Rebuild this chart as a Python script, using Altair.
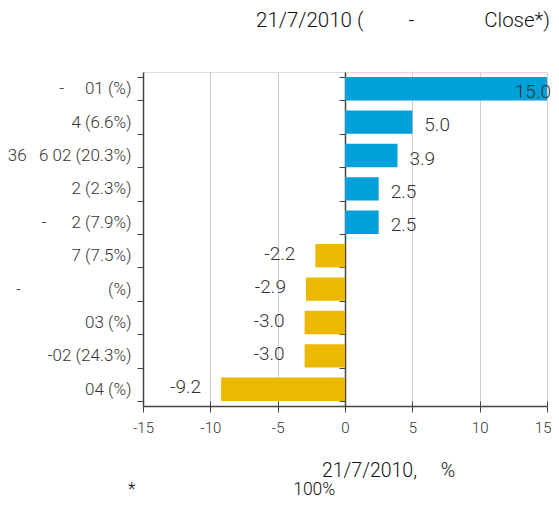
import altair as alt
import pandas as pd

NB = "\u00a0"

categories = [
    "-" + NB * 5 + "01 (%)",
    "4 (6.6%)",
    "36" + NB * 3 + "6 02 (20.3%)",
    "2 (2.3%)",
    "-" + NB * 6 + "2 (7.9%)",
    "7 (7.5%)",
    "-" + NB * 21 + "(%)",
    "03 (%)",
    "-02 (24.3%)",
    "04 (%)",
]
values = [15.0, 5.0, 3.9, 2.5, 2.5, -2.2, -2.9, -3.0, -3.0, -9.2]
x_ticks = [-15, -10, -5, 0, 5, 10, 15]

title_text = "21/7/2010 (" + NB * 9 + "-" + NB * 14 + "Close*)"
x_title = "21/7/2010," + NB * 5 + "%"
footnote = "*" + NB * 37 + "100%"

BLUE = "#00A0DA"
GOLD = "#ECB800"
FONT = "Roboto"
TXT = "#333333"
AX = "#444444"

df = pd.DataFrame({"cat": categories, "val": values})
df["label"] = [f"{v:.1f}" for v in values]

base = alt.Chart(df)

yenc = alt.Y(
    "cat:N",
    sort=categories,
    title=None,
    scale=alt.Scale(paddingInner=0.3, paddingOuter=0.15),
    axis=alt.Axis(
        tickBand="extent",
        labelFont=FONT,
        labelFontSize=17,
        labelFontWeight=300,
        labelColor=TXT,
        labelPadding=6,
        tickSize=6,
        tickColor=AX,
        domainColor=AX,
        domainWidth=1.5,
        grid=False,
    ),
)

xscale = alt.Scale(domain=[-15, 15], nice=False)

bars = base.mark_bar().encode(
    x=alt.X(
        "val:Q",
        scale=xscale,
        axis=alt.Axis(
            values=x_ticks,
            labelExpr="'' + datum.value",
            labelFlush=False,
            labelAlign=alt.ExprRef(expr="datum.value >= 15 ? 'right' : 'center'"),
            labelOffset=alt.ExprRef(expr="datum.value >= 15 ? 4 : 0"),
            title=x_title,
            titleFont=FONT,
            titleFontSize=19.5,
            titleFontWeight=300,
            titleColor="#111111",
            titleX=245,
            titleY=55,
            titleAlign="center",
            labelFont=FONT,
            labelFontSize=15,
            labelFontWeight=300,
            labelColor=TXT,
            labelPadding=8,
            tickSize=6,
            tickColor=AX,
            domainColor=AX,
            domainWidth=1.5,
            gridColor="#cccccc",
            gridWidth=1,
        ),
    ),
    y=yenc,
    color=alt.condition(alt.datum.val > 0, alt.value(BLUE), alt.value(GOLD)),
)

zero_axis = base.mark_rule(opacity=0).encode(
    x=alt.X(
        "val:Q",
        scale=xscale,
        axis=alt.Axis(
            orient="top",
            offset=-334,
            values=x_ticks,
            labels=False,
            domain=False,
            grid=False,
            tickSize=5,
            tickColor=AX,
            title=None,
        ),
    ),
    y=alt.Y(
        "cat:N",
        sort=categories,
        title=None,
        axis=alt.Axis(
            orient="left",
            offset=-202,
            labels=False,
            tickBand="extent",
            tickSize=6,
            tickColor=AX,
            domainColor=AX,
            domainWidth=1.5,
            grid=False,
            title=None,
        ),
    ),
)

lbl_kw = dict(font=FONT, fontSize=19, fontWeight=300, color=TXT, baseline="middle")
xl = alt.X("val:Q", scale=xscale, axis=None)
yl = alt.Y("cat:N", sort=categories, axis=None)

pos_small = base.transform_filter("datum.val > 0 && datum.val < 12").mark_text(
    align="left", dx=12, dy=3, **lbl_kw
).encode(x=xl, y=yl, text="label:N")

pos_big = base.transform_filter("datum.val >= 12").mark_text(
    align="right", dx=4, dy=3, **lbl_kw
).encode(x=xl, y=yl, text="label:N")

neg = base.transform_filter("datum.val < 0").mark_text(
    align="right", dx=-20, dy=-2, **lbl_kw
).encode(x=xl, y=yl, text="label:N")

foot = alt.Chart(pd.DataFrame({"t": [footnote]})).mark_text(
    align="left", baseline="middle", font=FONT, fontSize=17.5, fontWeight=300, color="#111111"
).encode(x=alt.value(-15), y=alt.value(418), text="t:N")

chart = (
    alt.layer(bars, zero_axis, pos_small, pos_big, neg, foot)
    .resolve_axis(y="independent", x="independent")
    .properties(
        width=404,
        height=334,
        autosize=alt.AutoSizeParams(type="none"),
        padding={"left": 135, "top": 64, "right": 4, "bottom": 94},
        title=alt.TitleParams(
            title_text,
            anchor="end",
            frame="group",
            font=FONT,
            fontSize=20.5,
            fontWeight=300,
            color="#111111",
            offset=32,
            dx=3,
        ),
    )
    .configure_view(strokeOpacity=0)
    .configure(background="white")
)

chart.save("out.html", embed_options={"renderer": "svg", "actions": False})
